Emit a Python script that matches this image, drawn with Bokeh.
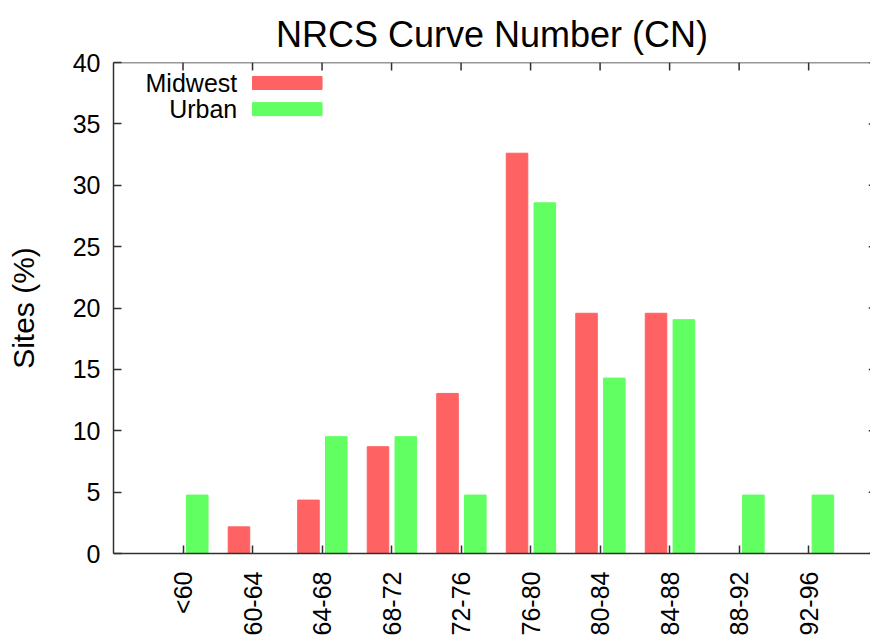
import math
from bokeh.plotting import figure
from bokeh.models import FixedTicker, LinearAxis, Range1d, ColumnDataSource, Span
from bokeh.core.properties import value
from bokeh.embed import file_html
from bokeh.resources import INLINE

# ---- data ----
categories = ["<60", "60-64", "64-68", "68-72", "72-76", "76-80", "80-84", "84-88", "88-92", "92-96"]
midwest = [0, 2.17, 4.35, 8.70, 13.04, 32.61, 19.57, 19.57, 0, 0]
urban = [4.76, 0, 9.52, 9.52, 4.76, 28.57, 14.29, 19.05, 4.76, 4.76]
series_names = ["Midwest", "Urban"]
series_colors = ["#ff6262", "#62ff62"]
y_ticks = [0, 5, 10, 15, 20, 25, 30, 35, 40]

FONT = "Liberation Sans"
AX = "#303030"
X0, X1 = -1, 9.89
Y0, Y1 = 0, 40

idx = list(range(len(categories)))
src = ColumnDataSource(dict(
    xm=[i - 0.195 for i in idx], xu=[i + 0.205 for i in idx],
    mid=midwest, urb=urban))

p = figure(width=870, height=639, output_backend="svg", toolbar_location=None,
           x_range=Range1d(X0, X1), y_range=Range1d(Y0, Y1),
           min_border_left=113, min_border_right=0, min_border_top=62, min_border_bottom=86,
           x_axis_location=None, y_axis_location=None)
p.grid.visible = False
p.outline_line_color = None
p.background_fill_color = "white"

p.title.text = "NRCS Curve Number (CN)"
p.title.text_font = FONT
p.title.text_font_size = "36px"
p.title.text_font_style = "normal"
p.title.align = "center"
p.title.text_color = "black"
p.title.text_line_height = 0.7
p.title.standoff = 16

p.vbar(x="xm", top="mid", width=0.31, source=src, fill_color=series_colors[0], line_color=series_colors[0])
p.vbar(x="xu", top="urb", width=0.31, source=src, fill_color=series_colors[1], line_color=series_colors[1])

# custom gnuplot-style key (label left, sample right)
key_y = [38.33, 36.2]
p.rect(x=[1.5, 1.5], y=key_y, width=1.0, height=1.06, fill_color=series_colors, line_color=series_colors)
p.text(x=[0.78, 0.78], y=key_y, text=series_names, text_align="right", text_baseline="middle",
       text_font=value(FONT), text_font_size="25px", text_color="black")

def style(ax):
    ax.axis_line_color = AX
    ax.axis_line_width = 1.5
    ax.major_tick_line_color = AX
    ax.major_tick_line_width = 1.5
    ax.major_tick_in = 8
    ax.major_tick_out = 0
    ax.minor_tick_line_color = None
    ax.major_label_text_font = FONT
    ax.major_label_text_font_size = "25px"
    ax.major_label_text_color = "black"

xb = LinearAxis(ticker=FixedTicker(ticks=idx),
                major_label_overrides={i: c for i, c in zip(idx, categories)})
style(xb)
xb.major_label_orientation = math.pi / 2
xb.major_label_standoff = 18
p.add_layout(xb, "below")

yl = LinearAxis(ticker=FixedTicker(ticks=y_ticks), axis_label="Sites (%)")
style(yl)
yl.major_label_standoff = 13
yl.axis_label_text_font = FONT
yl.axis_label_text_font_size = "30px"
yl.axis_label_text_font_style = "normal"
yl.axis_label_text_color = "black"
yl.axis_label_standoff = 30
p.add_layout(yl, "left")

# mirrored border line and ticks (gnuplot style)
p.add_layout(Span(location=Y1, dimension="width", line_color=AX, line_width=1.5))
tick_dy = 8 / 12.275
p.segment(x0=idx, y0=[Y1] * len(idx), x1=idx, y1=[Y1 - tick_dy] * len(idx),
          line_color=AX, line_width=1.5)
p.segment(x0=[X1 - 0.025] * len(y_ticks), y0=y_ticks, x1=[X1] * len(y_ticks), y1=y_ticks,
          line_color=AX, line_width=1.5)

open("out.html", "w").write(file_html(p, INLINE))
